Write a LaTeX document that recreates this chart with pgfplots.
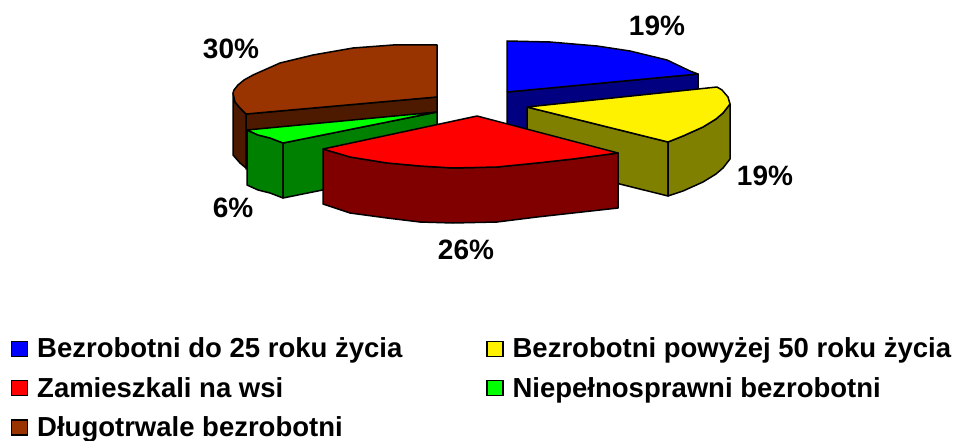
\documentclass[border=0pt]{standalone}
\usepackage{fontspec}
\setmainfont{Liberation Sans}
\usepackage{pgfplots}
\pgfplotsset{compat=1.18}
\pgfplotsset{sl/.style={draw=black,line width=1.5pt,line join=round,forget plot}}
\tikzset{lb/.style={font=\fontsize{28}{30}\selectfont\bfseries}}
\definecolor{brT}{HTML}{993300}\definecolor{brS}{HTML}{4D1A00}
\definecolor{blS}{HTML}{000080}\definecolor{ylS}{HTML}{808000}
\definecolor{rdS}{HTML}{800000}\definecolor{grS}{HTML}{008000}
\begin{document}
\begin{tikzpicture}
\begin{axis}[scale only axis,width=955pt,height=441pt,xmin=0,xmax=955,ymin=0,ymax=441,y dir=reverse,
  hide axis,clip=false,
  legend columns=2,
  legend cell align=left,
  legend style={draw=none,fill=none,at={(axis cs:11,336)},anchor=north west,inner sep=0pt,outer sep=0pt,
    font=\fontsize{27.5}{29}\selectfont\bfseries,row sep=14pt,
    /tikz/every odd column/.append style={column sep=7pt},
    /tikz/every even column/.append style={column sep=82pt}},
  legend image code/.code={\draw[draw=black,line width=1.2pt,#1] (0pt,-7.5pt) rectangle (16pt,7.5pt);},
]
% brown
\addplot[sl,fill=brS] coordinates {(246,114)(437,97)(437,152)(246,169)(246,114)};
\addplot[sl,fill=brS] coordinates {(233,93)(233,155)(240,163)(246,168)(246,114)(240,108)(235,102)(233,93)};
\addplot[sl,fill=brT] coordinates {(437,97)(437,45)(393,45)(353,48)(313,55)(280,63)(253,75)(244,80)(238,85)(234,90)(233,93)(235,102)(240,108)(246,114)(437,97)};
% blue
\addplot[sl,fill=blS] coordinates {(507,92)(698,74)(698,134)(507,147)(507,92)};
\addplot[sl,fill=blue] coordinates {(507,92)(507,41)(550,42)(597,46)(630,51)(667,60)(690,71)(698,74)(507,92)};
% green
\addplot[sl,fill=grS] coordinates {(247,130)(258,135)(270,138)(283,143)(283,198)(270,193)(258,190)(247,185)(247,130)};
\addplot[sl,fill=grS] coordinates {(283,143)(437,112)(437,167)(283,198)(283,143)};
\addplot[sl,fill=green] coordinates {(247,130)(437,112)(283,143)(270,138)(258,135)(247,130)};
% yellow
\addplot[sl,fill=ylS] coordinates {(527,107)(668,142)(668,196)(527,161)(527,107)};
\addplot[sl,fill=ylS] coordinates {(668,142)(683,136)(703,127)(716,119)(723,113)(730,104)(730,159)(723,168)(716,174)(703,182)(683,191)(668,196)(668,142)};
\addplot[sl,fill=yellow] coordinates {(527,107)(717,87)(722,90)(728,97)(730,104)(723,113)(716,119)(703,127)(683,136)(668,142)(527,107)};
% red
\addplot[sl,fill=rdS] coordinates {(323,149)(350,157)(387,163)(420,166)(453,168)(497,167)(537,163)(573,159)(618,153)(618,208)(573,213)(537,217)(497,222)(453,223)(420,222)(387,218)(350,213)(323,204)(323,149)};
\addplot[sl,fill=red] coordinates {(477,116)(618,153)(573,159)(537,163)(497,167)(453,168)(420,166)(387,163)(350,157)(323,149)(477,116)};
% legend
\addlegendimage{fill=blue}\addlegendentry{Bezrobotni do 25 roku życia}
\addlegendimage{fill=yellow}\addlegendentry{Bezrobotni powyżej 50 roku życia}
\addlegendimage{fill=red}\addlegendentry{Zamieszkali na wsi}
\addlegendimage{fill=green}\addlegendentry{Niepełnosprawni bezrobotni}
\addlegendimage{fill=brT}\addlegendentry{Długotrwale bezrobotni}
% labels
\node[lb] at (axis cs:657,26) {19\%};
\node[lb] at (axis cs:765,176) {19\%};
\node[lb] at (axis cs:466,250) {26\%};
\node[lb] at (axis cs:233,208) {6\%};
\node[lb] at (axis cs:231,49) {30\%};
\end{axis}
\pgfresetboundingbox
\path[use as bounding box] (0,0) rectangle (955pt,441pt);
\end{tikzpicture}
\end{document}
